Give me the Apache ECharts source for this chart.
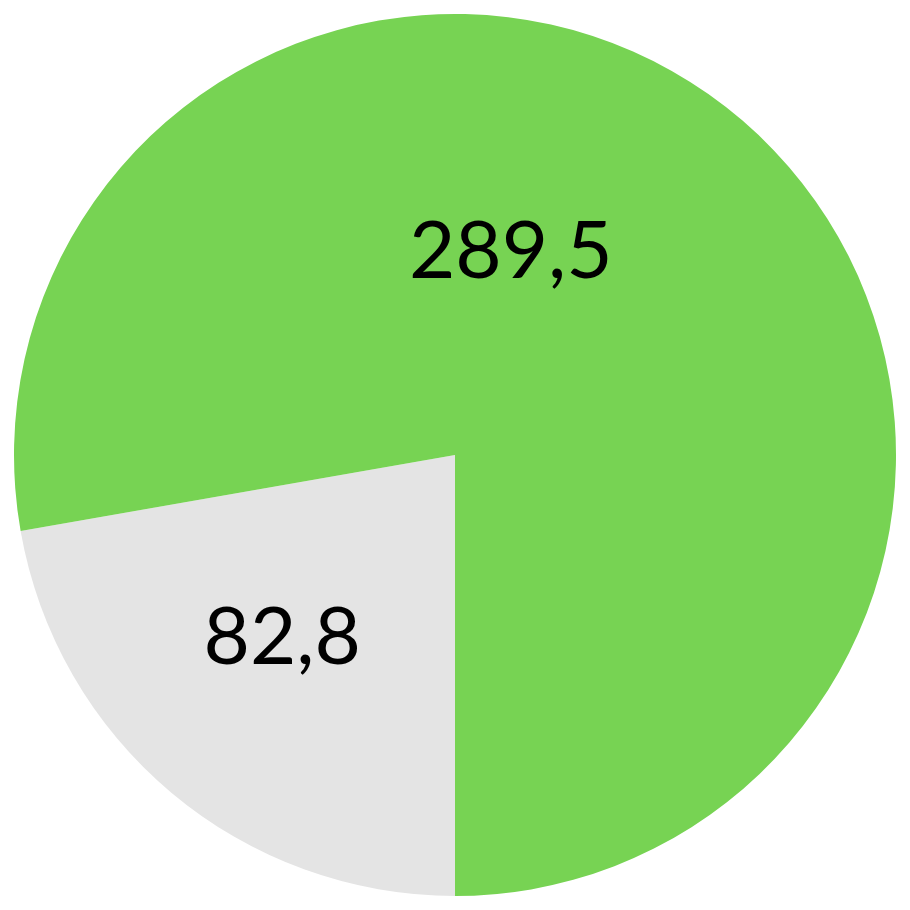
<!DOCTYPE html>
<html><head><meta charset="utf-8">
<script src="https://cdn.jsdelivr.net/npm/echarts@6/dist/echarts.min.js"></script>
<style>html,body{margin:0;padding:0;background:#fff}#c{width:910px;height:910px}</style>
</head><body><div id="c"></div>
<script>
const categories = ['B', 'A'];
const values = [82.8, 289.5];
const colors = ['#E4E4E4', '#77D353'];
const labelOffsets = [[-29, 12], [-88, -32]];

const chart = echarts.init(document.getElementById('c'), null, {renderer: 'canvas'});
chart.setOption({
  animation: false,
  series: [{
    type: 'pie',
    center: [455, 455],
    radius: [0, 441],
    startAngle: 270,
    clockwise: true,
    avoidLabelOverlap: false,
    silent: true,
    itemStyle: {borderWidth: 0},
    label: {
      show: true,
      position: 'inside',
      fontFamily: 'Lato',
      fontSize: 80,
      color: '#000',
      formatter: p => String(p.value).replace('.', ',')
    },
    labelLine: {show: false},
    data: categories.map((c, i) => ({
      name: c, value: values[i],
      itemStyle: {color: colors[i]},
      label: {offset: labelOffsets[i]}
    }))
  }]
});
</script></body></html>
